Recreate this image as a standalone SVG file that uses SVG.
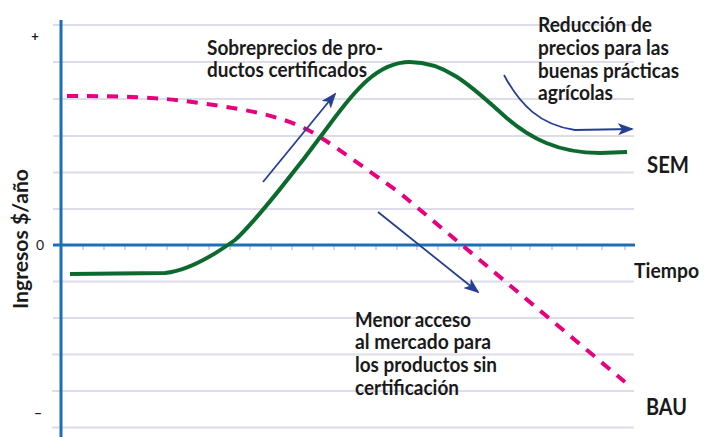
<svg xmlns="http://www.w3.org/2000/svg" width="705" height="437" viewBox="0 0 705 437">
<style>
.grid{stroke:#dedce9;stroke-width:2;fill:none}
.tick{stroke:#d4d2e6;stroke-width:2}
.axis{stroke:#1b6fb6;stroke-width:3;fill:none}
.lbl{font-family:Lato,"Open Sans",sans-serif;font-weight:700;fill:#1a1a1a;font-size:20px}
.big{font-family:Lato,"Open Sans",sans-serif;font-weight:700;fill:#1a1a1a;font-size:23px}
.sm{font-family:Lato,"Open Sans",sans-serif;font-weight:700;fill:#1a1a1a;font-size:14px}
.arr{stroke:#263f92;stroke-width:1.8;fill:none;marker-end:url(#ah)}
</style>
<defs>
<marker id="ah" markerUnits="userSpaceOnUse" markerWidth="16" markerHeight="12" viewBox="0 0 16 12" refX="14" refY="6" orient="auto">
<path d="M0,0 L16,6 L0,12 L4,6 z" fill="#263f92"/>
</marker>
</defs>
<g id="grid">
<line class="grid" x1="53" y1="25" x2="634" y2="25"/>
<line class="grid" x1="53" y1="62" x2="634" y2="62"/>
<line class="grid" x1="53" y1="99" x2="634" y2="99"/>
<line class="grid" x1="53" y1="136" x2="634" y2="136"/>
<line class="grid" x1="53" y1="172.5" x2="634" y2="172.5"/>
<line class="grid" x1="53" y1="209" x2="634" y2="209"/>
<line class="grid" x1="53" y1="281.5" x2="634" y2="281.5"/>
<line class="grid" x1="53" y1="318" x2="634" y2="318"/>
<line class="grid" x1="52" y1="354.5" x2="634" y2="354.5"/>
<line class="grid" x1="52" y1="391" x2="634" y2="391"/>
<line class="grid" x1="52" y1="427.5" x2="634" y2="427.5"/>
</g>
<g id="ticks">
<path class="tick" d="M83,246v4M104,246v4M125,246v4M146,246v4M167,246v4M188,246v4M209,246v4M230,246v4M250,246v4M271,246v4M292,246v4M313,246v4M334,246v4M355,246v4M376,246v4M397,246v4M417,246v4M438,246v4M459,246v4M480,246v4M511,246v4M530,246v4M552,246v4M577,246v4M602,246v4M625,246v4"/>
</g>
<g id="axes">
<line class="axis" x1="61" y1="20" x2="61" y2="437"/>
<line class="axis" x1="53" y1="245" x2="635" y2="245"/>
</g>
<g id="axis-labels">
<text class="sm" x="35" y="41" text-anchor="middle" style="font-size:13px">+</text>
<text class="sm" x="40" y="250" text-anchor="middle" style="font-weight:400">0</text>
<text class="sm" x="38" y="418" text-anchor="middle">–</text>
<text class="lbl" transform="translate(28,309) rotate(-90)" textLength="140" lengthAdjust="spacingAndGlyphs">Ingresos $/año</text>
</g>
<g id="curves">
<path id="bau" d="M67,96 C120,96 160,97 200,103 C250,110 290,117 320,137 C345,153 370,172 400,193 L625,382" fill="none" stroke="#e6007e" stroke-width="4" stroke-dasharray="11 9"/>
<path id="sem" d="M70,274 L165,273 C185,271 210,258 235,240 C255,222 300,165 330,124 C355,90 378,62 410,62 C445,62 470,85 500,112 C530,140 560,153 600,153 L627,152" fill="none" stroke="#0c6a2e" stroke-width="4"/>
</g>
<g id="connectors">
<path class="arr" d="M263,182 L335,94"/>
<path class="arr" d="M378,212 L478,292"/>
<path class="arr" d="M504,75 C520,105 540,125 575,130 L632,129"/>
</g>
<g id="texts">
<text class="lbl" x="207" y="55" textLength="176" lengthAdjust="spacingAndGlyphs">Sobreprecios de pro-</text>
<text class="lbl" x="207" y="77" textLength="160" lengthAdjust="spacingAndGlyphs">ductos certificados</text>
<text class="lbl" x="538" y="32" textLength="114" lengthAdjust="spacingAndGlyphs">Reducción de</text>
<text class="lbl" x="538" y="55" textLength="131" lengthAdjust="spacingAndGlyphs">precios para las</text>
<text class="lbl" x="538" y="78" textLength="141" lengthAdjust="spacingAndGlyphs">buenas prácticas</text>
<text class="lbl" x="538" y="100" textLength="75" lengthAdjust="spacingAndGlyphs">agrícolas</text>
<text class="lbl" x="355" y="327" textLength="116" lengthAdjust="spacingAndGlyphs">Menor acceso</text>
<text class="lbl" x="355" y="349" textLength="136" lengthAdjust="spacingAndGlyphs">al mercado para</text>
<text class="lbl" x="355" y="372" textLength="142" lengthAdjust="spacingAndGlyphs">los productos sin</text>
<text class="lbl" x="355" y="395" textLength="104" lengthAdjust="spacingAndGlyphs">certificación</text>
<text class="big" x="647" y="173" textLength="42" lengthAdjust="spacingAndGlyphs">SEM</text>
<text class="big" x="634" y="278" style="font-size:21px" textLength="65" lengthAdjust="spacingAndGlyphs">Tiempo</text>
<text class="big" x="646" y="415" textLength="41" lengthAdjust="spacingAndGlyphs">BAU</text>
</g>
</svg>
